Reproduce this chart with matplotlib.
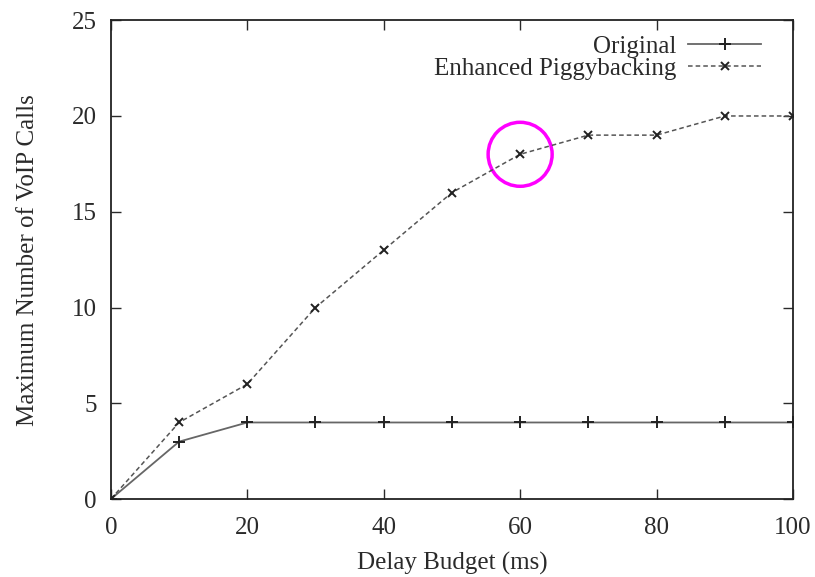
import matplotlib
matplotlib.use("Agg")
import matplotlib.pyplot as plt
from matplotlib.patches import Ellipse

plt.rcParams['font.family'] = ['Liberation Serif', 'DejaVu Serif']

delay = [0, 10, 20, 30, 40, 50, 60, 70, 80, 90, 100]
original = [0, 3, 4, 4, 4, 4, 4, 4, 4, 4, 4]
enhanced = [0, 4, 6, 10, 13, 16, 18, 19, 19, 20, 20]
highlight = (60, 18)

fig = plt.figure(figsize=(8.15, 5.77), dpi=100)
ax = fig.add_axes([0.136, 0.135, 0.837, 0.830])

ax.plot(delay, original, '-', color='#666666', lw=1.3, marker='+', ms=8,
        mew=1.4, mec='#222222', label='Original')
ax.plot(delay, enhanced, '--', color='#555555', lw=1.1, dashes=(3, 2),
        marker='x', ms=6, mew=1.4, mec='#222222', label='Enhanced Piggybacking')

# circle around the highlighted point, sized in pixels
circ = Ellipse(highlight, width=64 / 682 * 100, height=64 / 479 * 25,
               fill=False, ec='#ff00ff', lw=2.5)
ax.add_patch(circ)

ax.set_xlim(0, 100)
ax.set_ylim(0, 25)
ax.set_xticks(range(0, 101, 20))
ax.set_yticks(range(0, 26, 5))
ax.tick_params(direction='in', top=True, right=True, length=7, width=1.0,
               labelsize=18, colors='#2a2a2a')
ax.tick_params(axis='x', pad=13)
ax.tick_params(axis='y', pad=10)
for s in ax.spines.values():
    s.set_linewidth(1.3)
    s.set_color('#222222')

ax.set_xlabel('Delay Budget (ms)', fontsize=18, color='#2a2a2a', labelpad=9)
ax.set_ylabel('Maximum Number of VoIP Calls', fontsize=18, color='#2a2a2a', labelpad=24)

leg = ax.legend(loc='upper right', bbox_to_anchor=(0.975, 1.0), frameon=False,
                fontsize=18, markerfirst=False, handlelength=2.9,
                borderaxespad=0.2, labelspacing=0.0, handletextpad=0.5)
for t in leg.get_texts():
    t.set_color('#2a2a2a')

fig.savefig('out.png', dpi=100)
